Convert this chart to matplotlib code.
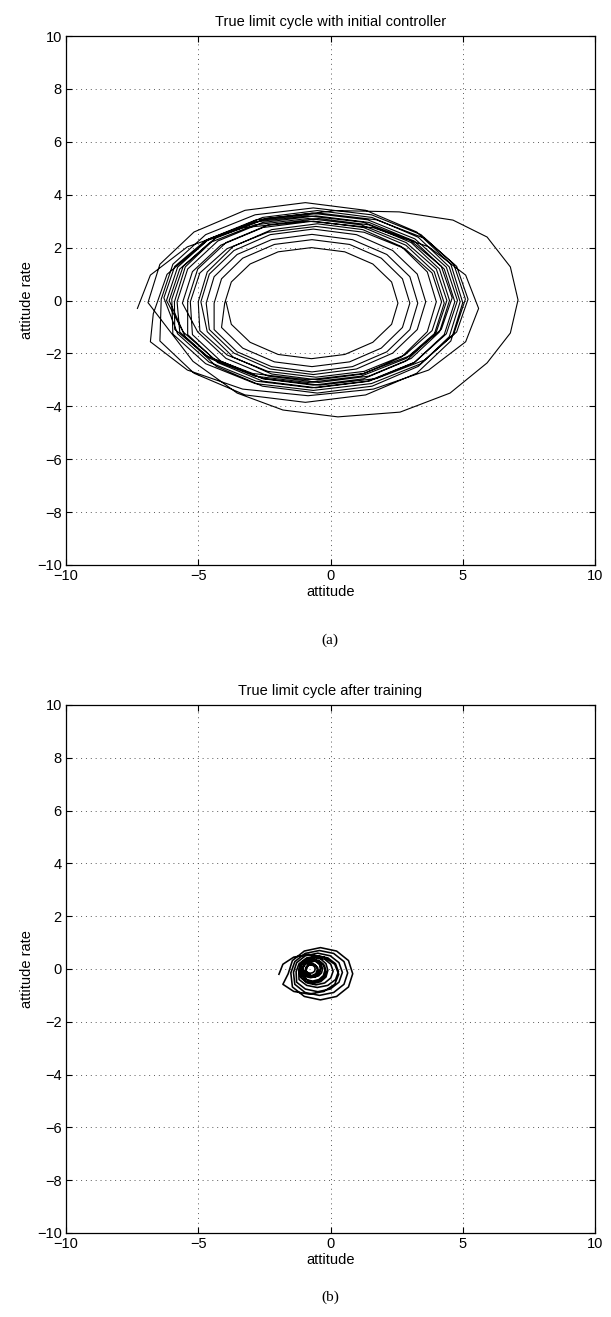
import matplotlib
matplotlib.use("Agg")
import matplotlib.pyplot as plt

plt.rcParams['font.family'] = ['Liberation Sans', 'DejaVu Sans']

# trajectory (a): initial controller, traced loop by loop (clockwise)
xa = [
    -7.30, -6.81, -5.41, -3.32, -0.85, 1.62, 3.71, 5.11, 5.60, 5.11, 3.71, 1.62, -0.85, -3.32, -5.41, -6.81,
    -6.70, -6.18, -4.68, -2.44, 0.20, 2.60, 4.63, 5.92, 6.80, 7.09, 6.80, 5.92, 4.52, 2.63, 0.28, -1.80, -3.53, -5.20,
    -6.90, -6.45, -5.16, -3.23, -0.95, 1.33, 3.26, 4.55, 5.00, 4.55, 3.26, 1.33, -0.95, -3.23, -5.16, -6.45,
    -6.40, -5.96, -4.72, -2.85, -0.65, 1.55, 3.42, 4.66, 5.10, 4.66, 3.42, 1.55, -0.65, -2.85, -4.72, -5.96,
    -6.00, -5.57, -4.36, -2.54, -0.40, 1.74, 3.56, 4.77, 5.20, 4.77, 3.56, 1.74, -0.40, -2.54, -4.36, -5.57,
    -6.20, -5.78, -4.59, -2.81, -0.70, 1.41, 3.19, 4.38, 4.80, 4.38, 3.19, 1.41, -0.70, -2.81, -4.59, -5.78,
    -6.30, -5.89, -4.70, -2.94, -0.85, 1.24, 3.00, 4.19, 4.60, 4.19, 3.00, 1.24, -0.85, -2.94, -4.70, -5.89,
    -5.90, -5.49, -4.32, -2.57, -0.50, 1.57, 3.32, 4.49, 4.90, 4.49, 3.32, 1.57, -0.50, -2.57, -4.32, -5.49,
    -6.10, -5.70, -4.56, -2.86, -0.85, 1.16, 2.86, 4.00, 4.40, 4.00, 2.86, 1.16, -0.85, -2.86, -4.56, -5.70,
    -5.80, -5.40, -4.26, -2.56, -0.55, 1.46, 3.16, 4.30, 4.70, 4.30, 3.16, 1.46, -0.55, -2.56, -4.26, -5.40,
    -5.40, -5.02, -3.95, -2.35, -0.45, 1.45, 3.05, 4.12, 4.50, 4.12, 3.05, 1.45, -0.45, -2.35, -3.95, -5.02,
    -5.60, -5.22, -4.15, -2.55, -0.65, 1.25, 2.85, 3.92, 4.30, 3.92, 2.85, 1.25, -0.65, -2.55, -4.15, -5.22,
    -5.30, -4.94, -3.91, -2.37, -0.55, 1.27, 2.81, 3.84, 4.20, 3.84, 2.81, 1.27, -0.55, -2.37, -3.91, -4.94,
    -5.00, -4.66, -3.68, -2.22, -0.50, 1.22, 2.68, 3.66, 4.00, 3.66, 2.68, 1.22, -0.50, -2.22, -3.68, -4.66,
    -4.90, -4.58, -3.65, -2.28, -0.65, 0.98, 2.35, 3.28, 3.60, 3.28, 2.35, 0.98, -0.65, -2.28, -3.65, -4.58,
    -4.70, -4.40, -3.53, -2.23, -0.70, 0.83, 2.13, 3.00, 3.30, 3.00, 2.13, 0.83, -0.70, -2.23, -3.53, -4.40,
    -4.40, -4.12, -3.32, -2.12, -0.70, 0.72, 1.92, 2.72, 3.00, 2.72, 1.92, 0.72, -0.70, -2.12, -3.32, -4.12,
    -4.00, -3.75, -3.04, -1.98, -0.72, 0.54, 1.60, 2.31, 2.55, 2.31, 1.60, 0.54, -0.72, -1.98, -3.04, -3.75,
    -3.95,
]
ya = [
    -0.30, 0.96, 2.03, 2.75, 3.00, 2.75, 2.03, 0.96, -0.30, -1.56, -2.63, -3.35, -3.60, -3.35, -2.63, -1.56,
    -0.50, 0.99, 2.26, 3.10, 3.40, 3.35, 3.04, 2.40, 1.27, 0.02, -1.23, -2.36, -3.50, -4.22, -4.40, -4.14, -3.50, -2.30,
    -0.08, 1.37, 2.59, 3.41, 3.70, 3.41, 2.59, 1.37, -0.08, -1.53, -2.75, -3.57, -3.85, -3.57, -2.75, -1.53,
    0.05, 1.37, 2.49, 3.24, 3.50, 3.24, 2.49, 1.37, 0.05, -1.27, -2.39, -3.14, -3.40, -3.14, -2.39, -1.27,
    0.05, 1.29, 2.35, 3.05, 3.30, 3.05, 2.35, 1.29, 0.05, -1.19, -2.25, -2.95, -3.20, -2.95, -2.25, -1.19,
    0.00, 1.26, 2.33, 3.05, 3.30, 3.05, 2.33, 1.26, 0.00, -1.26, -2.33, -3.05, -3.30, -3.05, -2.33, -1.26,
    0.10, 1.29, 2.29, 2.96, 3.20, 2.96, 2.29, 1.29, 0.10, -1.09, -2.09, -2.76, -3.00, -2.76, -2.09, -1.09,
    -0.05, 1.27, 2.39, 3.14, 3.40, 3.14, 2.39, 1.27, -0.05, -1.37, -2.49, -3.24, -3.50, -3.24, -2.49, -1.37,
    0.00, 1.19, 2.19, 2.86, 3.10, 2.86, 2.19, 1.19, 0.00, -1.19, -2.19, -2.86, -3.10, -2.86, -2.19, -1.19,
    -0.05, 1.19, 2.25, 2.95, 3.20, 2.95, 2.25, 1.19, -0.05, -1.29, -2.35, -3.05, -3.30, -3.05, -2.35, -1.29,
    0.00, 1.19, 2.19, 2.86, 3.10, 2.86, 2.19, 1.19, 0.00, -1.19, -2.19, -2.86, -3.10, -2.86, -2.19, -1.19,
    -0.10, 1.09, 2.09, 2.76, 3.00, 2.76, 2.09, 1.09, -0.10, -1.29, -2.29, -2.96, -3.20, -2.96, -2.29, -1.29,
    -0.05, 1.04, 1.96, 2.58, 2.80, 2.58, 1.96, 1.04, -0.05, -1.14, -2.06, -2.68, -2.90, -2.68, -2.06, -1.14,
    -0.05, 1.08, 2.04, 2.68, 2.90, 2.68, 2.04, 1.08, -0.05, -1.18, -2.14, -2.78, -3.00, -2.78, -2.14, -1.18,
    -0.05, 1.00, 1.89, 2.49, 2.70, 2.49, 1.89, 1.00, -0.05, -1.10, -1.99, -2.59, -2.80, -2.59, -1.99, -1.10,
    -0.10, 0.90, 1.74, 2.30, 2.50, 2.30, 1.74, 0.90, -0.10, -1.10, -1.94, -2.50, -2.70, -2.50, -1.94, -1.10,
    -0.10, 0.82, 1.60, 2.12, 2.30, 2.12, 1.60, 0.82, -0.10, -1.02, -1.80, -2.32, -2.50, -2.32, -1.80, -1.02,
    -0.10, 0.70, 1.38, 1.84, 2.00, 1.84, 1.38, 0.70, -0.10, -0.90, -1.58, -2.04, -2.20, -2.04, -1.58, -0.90,
    -0.05,
]

# trajectory (b): after training
xb = [
    -1.95, -1.80, -1.39, -0.82, -0.25, 0.16, 0.31, 0.16, -0.25, -0.82, -1.39, -1.80,
    -1.60, -1.44, -0.99, -0.38, 0.23, 0.68, 0.84, 0.68, 0.23, -0.38, -0.99, -1.44,
    -1.50, -1.35, -0.96, -0.42, 0.12, 0.51, 0.65, 0.51, 0.12, -0.42, -0.96, -1.35,
    -1.40, -1.28, -0.95, -0.48, -0.01, 0.32, 0.45, 0.32, -0.01, -0.48, -0.95, -1.28,
    -1.30, -1.19, -0.90, -0.50, -0.10, 0.19, 0.30, 0.19, -0.10, -0.50, -0.90, -1.19,
    -1.20, -1.13, -0.93, -0.65, -0.37, -0.17, -0.10, -0.17, -0.37, -0.65, -0.93, -1.13,
    -1.20, -1.11, -0.88, -0.55, -0.22, 0.01, 0.10, 0.01, -0.22, -0.55, -0.88, -1.11,
    -1.15, -1.09, -0.92, -0.68, -0.44, -0.27, -0.21, -0.27, -0.44, -0.68, -0.92, -1.09,
    -1.07, -1.01, -0.85, -0.62, -0.39, -0.23, -0.17, -0.23, -0.39, -0.62, -0.85, -1.01,
    -1.13, -1.08, -0.94, -0.75, -0.56, -0.42, -0.37, -0.42, -0.56, -0.75, -0.94, -1.08,
    -1.03, -0.99, -0.87, -0.70, -0.53, -0.41, -0.37, -0.41, -0.53, -0.70, -0.87, -0.99,
    -0.90, -0.86, -0.75, -0.60, -0.45, -0.34, -0.30, -0.34, -0.45, -0.60, -0.75, -0.86,
    -1.06, -1.02, -0.92, -0.78, -0.64, -0.54, -0.50, -0.54, -0.64, -0.78, -0.92, -1.02,
    -0.94, -0.91, -0.82, -0.70, -0.58, -0.49, -0.46, -0.49, -0.58, -0.70, -0.82, -0.91,
    -0.94, -0.92, -0.85, -0.76, -0.67, -0.60, -0.58, -0.60, -0.67, -0.76, -0.85, -0.92,
    -0.94,
]
yb = [
    -0.20, 0.18, 0.45, 0.55, 0.45, 0.18, -0.20, -0.58, -0.85, -0.95, -0.85, -0.58,
    -0.18, 0.32, 0.68, 0.81, 0.68, 0.32, -0.18, -0.68, -1.04, -1.17, -1.04, -0.68,
    -0.15, 0.28, 0.59, 0.70, 0.59, 0.28, -0.15, -0.58, -0.89, -1.00, -0.89, -0.58,
    -0.13, 0.24, 0.50, 0.60, 0.50, 0.24, -0.13, -0.50, -0.76, -0.86, -0.76, -0.50,
    -0.10, 0.20, 0.42, 0.50, 0.42, 0.20, -0.10, -0.40, -0.62, -0.70, -0.62, -0.40,
    -0.05, 0.20, 0.38, 0.45, 0.38, 0.20, -0.05, -0.30, -0.48, -0.55, -0.48, -0.30,
    -0.08, 0.18, 0.37, 0.44, 0.37, 0.18, -0.08, -0.34, -0.53, -0.60, -0.53, -0.34,
    -0.04, 0.17, 0.32, 0.38, 0.32, 0.17, -0.04, -0.25, -0.40, -0.46, -0.40, -0.25,
    -0.08, 0.13, 0.28, 0.34, 0.28, 0.13, -0.08, -0.29, -0.44, -0.50, -0.44, -0.29,
    0.00, 0.17, 0.29, 0.33, 0.29, 0.17, 0.00, -0.17, -0.29, -0.33, -0.29, -0.17,
    0.05, 0.20, 0.31, 0.35, 0.31, 0.20, 0.05, -0.10, -0.21, -0.25, -0.21, -0.10,
    0.00, 0.15, 0.26, 0.30, 0.26, 0.15, 0.00, -0.15, -0.26, -0.30, -0.26, -0.15,
    -0.02, 0.11, 0.20, 0.23, 0.20, 0.11, -0.02, -0.15, -0.24, -0.27, -0.24, -0.15,
    -0.05, 0.06, 0.14, 0.17, 0.14, 0.06, -0.05, -0.16, -0.24, -0.27, -0.24, -0.16,
    0.00, 0.08, 0.14, 0.16, 0.14, 0.08, 0.00, -0.08, -0.14, -0.16, -0.14, -0.08,
    0.00,
]

titles = ["True limit cycle with initial controller", "True limit cycle after training"]
captions = ["(a)", "(b)"]
xticks = [-10, -5, 0, 5, 10]
yticks = [-10, -8, -6, -4, -2, 0, 2, 4, 6, 8, 10]

W, H = 611, 1317
fig = plt.figure(figsize=(W / 100, H / 100), dpi=100)

# axes boxes in pixels: left, top, right, bottom
boxes = [(66, 36, 595, 565), (66, 705, 595, 1233)]
cap_y = [640, 1297]
data = [(xa, ya), (xb, yb)]
widths = [0.8, 1.15]

for i, (l, t, r, b) in enumerate(boxes):
    ax = fig.add_axes([l / W, 1 - b / H, (r - l) / W, (b - t) / H])
    x, y = data[i]
    ax.plot(x, y, color='black', linewidth=widths[i])
    ax.set_xlim(-10, 10)
    ax.set_ylim(-10, 10)
    ax.set_xticks(xticks)
    ax.set_yticks(yticks)
    ax.set_xticklabels([str(v).replace('-', '\u2212') for v in xticks])
    ax.set_yticklabels([str(v).replace('-', '\u2212') for v in yticks])
    ax.grid(True, linestyle=(0, (1, 4)), color='0.35', linewidth=0.7)
    ax.tick_params(direction='in', top=True, right=True, length=4,
                   labelsize=10.5, pad=3, width=0.8)
    for s in ax.spines.values():
        s.set_linewidth(0.9)
    ax.set_title(titles[i], fontsize=10.5, pad=7)
    ax.set_xlabel('attitude', fontsize=10.5, labelpad=1)
    ax.set_ylabel('attitude rate', fontsize=10.5, labelpad=2)
    fig.text(330 / W, 1 - cap_y[i] / H, captions[i], ha='center', va='center',
             fontsize=11, family='Liberation Serif')

fig.savefig('out.png', dpi=100)
